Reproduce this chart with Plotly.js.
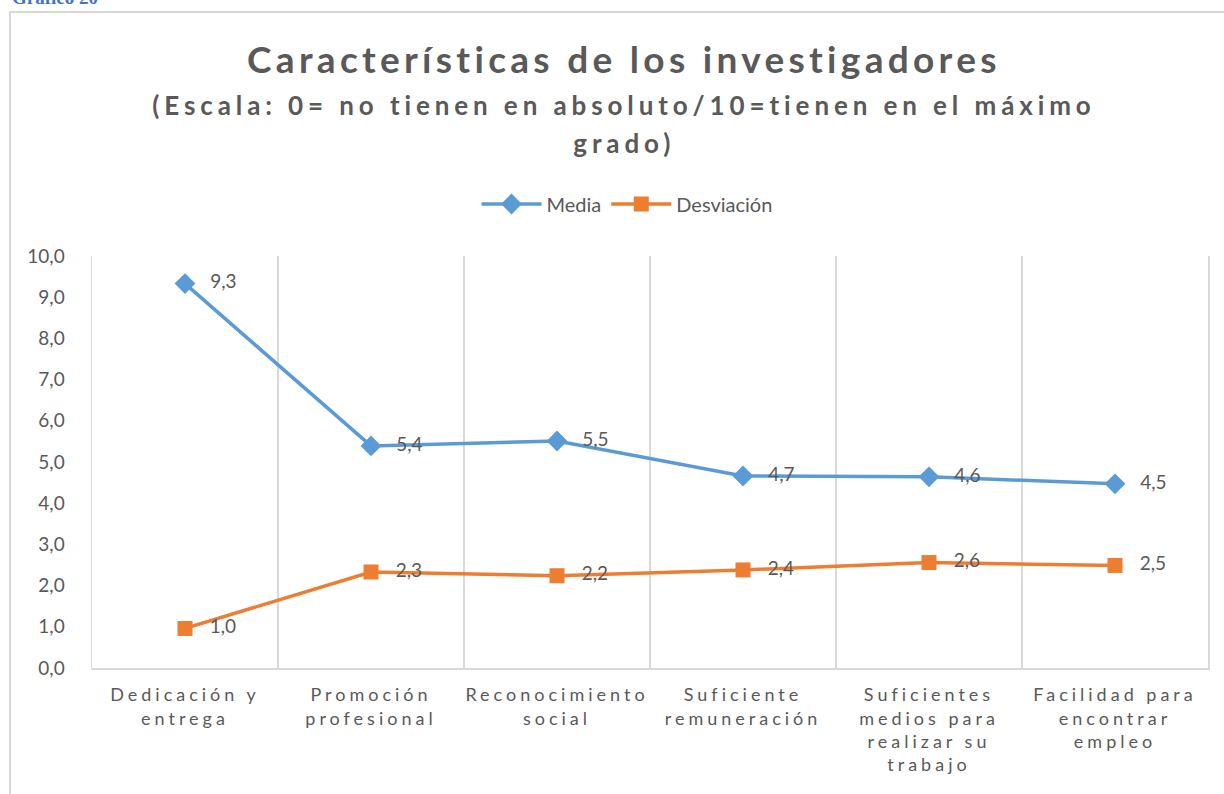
<!DOCTYPE html>
<html>
<head>
<meta charset="utf-8">
<script src="https://cdn.plot.ly/plotly-3.0.1.min.js"></script>
<style>
  html, body { margin: 0; padding: 0; background: #fff; }
  #chart { width: 1224px; height: 794px; }
  .annotation[data-index="1"] text { letter-spacing: 4.3px; }
  .annotation[data-index="2"] text { letter-spacing: 4.9px; }
  .annotation[data-index="3"] text { letter-spacing: 4.9px; }
  .xtick text { letter-spacing: 4px; }
</style>
</head>
<body>
<div id="chart"></div>
<script>
const categories = [
  "Dedicación y<br>entrega",
  "Promoción<br>profesional",
  "Reconocimiento<br>social",
  "Suficiente<br>remuneración",
  "Suficientes<br>medios para<br>realizar su<br>trabajo",
  "Facilidad para<br>encontrar<br>empleo"
];
const mediaValues = [9.33, 5.39, 5.51, 4.66, 4.64, 4.47];
const desviacionValues = [0.96, 2.33, 2.24, 2.38, 2.56, 2.49];
const yTickValues = [0, 1, 2, 3, 4, 5, 6, 7, 8, 9, 10];

const grey = "#595959";
const fontFam = "Lato, 'Noto Sans', sans-serif";

const traces = [
  {
    x: categories, y: mediaValues, name: "Media", type: "scatter",
    mode: "lines+markers+text",
    line: { color: "#5B9BD5", width: 3.5 },
    marker: { symbol: "diamond", size: 16, color: "#5B9BD5" },
    text: mediaValues.map(v => "\u2003" + v.toFixed(1).replace(".", ",")),
    textposition: "middle right",
    textfont: { family: fontFam, size: 19, color: grey },
    cliponaxis: false, hoverinfo: "skip"
  },
  {
    x: categories, y: desviacionValues, name: "Desviación", type: "scatter",
    mode: "lines+markers+text",
    line: { color: "#ED7D31", width: 3.5 },
    marker: { symbol: "square", size: 15, color: "#ED7D31" },
    text: desviacionValues.map(v => "\u2003" + v.toFixed(1).replace(".", ",")),
    textposition: "middle right",
    textfont: { family: fontFam, size: 19, color: grey },
    cliponaxis: false, hoverinfo: "skip"
  }
];

const L = 92, R = 16, T = 256, B = 126;
const PW = 1224 - L - R, PH = 794 - T - B;
const px = x => (x - L) / PW;
const py = y => (794 - B - y) / PH;

const layout = {
  width: 1224, height: 794,
  margin: { l: L, r: R, t: T, b: B },
  paper_bgcolor: "#fff", plot_bgcolor: "#fff",
  font: { family: fontFam, color: grey },
  separators: ",.",
  showlegend: true,
  legend: {
    orientation: "h", x: px(627), xanchor: "center", y: py(204), yanchor: "middle",
    font: { family: fontFam, size: 20, color: grey }, itemwidth: 60
  },
  xaxis: {
    type: "category", tickson: "boundaries", showgrid: true, gridcolor: "#d9d9d9", gridwidth: 1.5,
    showline: true, linecolor: "#d9d9d9", linewidth: 1.5, ticks: "",
    tickfont: { family: fontFam, size: 18, color: grey },
    ticklabelstandoff: 10, range: [-0.5, 5.5], fixedrange: true
  },
  yaxis: {
    range: [0, 10], tickvals: yTickValues, tickformat: ".1f",
    showgrid: false, zeroline: false,
    showline: true, mirror: true, linecolor: "#d9d9d9", linewidth: 1.5, ticks: "",
    tickfont: { family: fontFam, size: 19, color: grey },
    ticklabelstandoff: 22, fixedrange: true
  },
  shapes: [
    { type: "rect", xref: "paper", yref: "paper", x0: px(10), x1: px(1240), y0: py(12), y1: py(810),
      line: { color: "#d9d9d9", width: 2 }, fillcolor: "rgba(0,0,0,0)", layer: "below" }
  ],
  annotations: [
    { text: "<b>Gráfico 20</b>", xref: "paper", yref: "paper", x: px(10), y: py(10), xanchor: "left", yanchor: "bottom",
      showarrow: false, font: { family: "'Liberation Serif', 'DejaVu Serif', serif", size: 19, color: "#4472C4" } },
    { text: "<b>Características de los investigadores</b>", xref: "paper", yref: "paper", x: px(624), y: py(58),
      xanchor: "center", yanchor: "middle", showarrow: false,
      font: { family: fontFam, size: 37, color: grey } },
    { text: "<b>(Escala: 0= no tienen en absoluto/10=tienen en el máximo</b>", xref: "paper", yref: "paper",
      x: px(624), y: py(105), xanchor: "center", yanchor: "middle", showarrow: false,
      font: { family: fontFam, size: 26, color: grey } },
    { text: "<b>grado)</b>", xref: "paper", yref: "paper",
      x: px(624), y: py(143), xanchor: "center", yanchor: "middle", showarrow: false,
      font: { family: fontFam, size: 26, color: grey } }
  ]
};

Plotly.newPlot("chart", traces, layout, { displayModeBar: false, staticPlot: true });
</script>
</body>
</html>
